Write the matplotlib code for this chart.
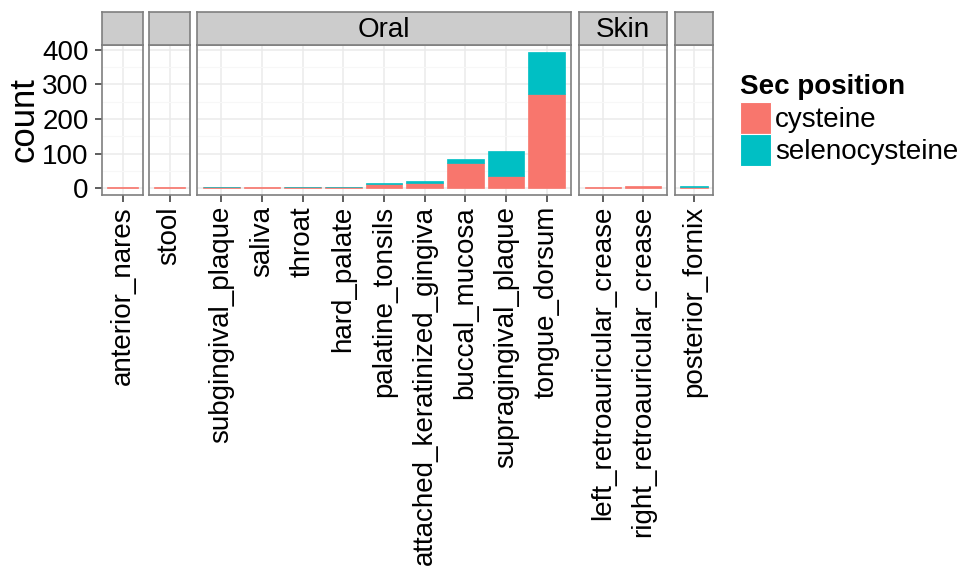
import matplotlib.pyplot as plt
from matplotlib.patches import Rectangle

plt.rcParams['font.family'] = ['Liberation Sans', 'DejaVu Sans']

# facets (strip label, sites in that facet)
facets = ['', '', 'Oral', 'Skin', '']
facet_sites = [
    ['anterior_nares'],
    ['stool'],
    ['subgingival_plaque', 'saliva', 'throat', 'hard_palate', 'palatine_tonsils',
     'attached_keratinized_gingiva', 'buccal_mucosa', 'supragingival_plaque', 'tongue_dorsum'],
    ['left_retroauricular_crease', 'right_retroauricular_crease'],
    ['posterior_fornix'],
]

# counts per site
cysteine = {
    'anterior_nares': 2, 'stool': 2,
    'subgingival_plaque': 2, 'saliva': 4, 'throat': 2, 'hard_palate': 2,
    'palatine_tonsils': 11, 'attached_keratinized_gingiva': 15, 'buccal_mucosa': 74,
    'supragingival_plaque': 34, 'tongue_dorsum': 273,
    'left_retroauricular_crease': 3, 'right_retroauricular_crease': 7,
    'posterior_fornix': 3,
}
selenocysteine = {
    'anterior_nares': 0, 'stool': 0,
    'subgingival_plaque': 2, 'saliva': 0, 'throat': 2, 'hard_palate': 2,
    'palatine_tonsils': 5, 'attached_keratinized_gingiva': 6, 'buccal_mucosa': 11,
    'supragingival_plaque': 74, 'tongue_dorsum': 121,
    'left_retroauricular_crease': 0, 'right_retroauricular_crease': 0,
    'posterior_fornix': 4,
}

col_cys = '#F8766D'
col_sec = '#00BFC4'

W, H = 965, 573
fig = plt.figure(figsize=(W / 100, H / 100), dpi=100)

# panel pixel extents (left, right)
panel_x = [(102, 143), (149, 190), (197, 571), (579, 667), (675, 713)]
panel_top, panel_bot = 45, 195
strip_top = 12

ymax = max(cysteine[s] + selenocysteine[s] for s in cysteine)
ylim = (-0.05 * ymax, ymax * 1.05)


def fx(px):
    return px / W


def fy(py):
    return 1 - py / H


for i, (label, sites) in enumerate(zip(facets, facet_sites)):
    x0, x1 = panel_x[i]
    ax = fig.add_axes([fx(x0), fy(panel_bot), fx(x1 - x0), (panel_bot - panel_top) / H])
    xs = list(range(len(sites)))
    c = [cysteine[s] for s in sites]
    se = [selenocysteine[s] for s in sites]
    ax.bar(xs, c, width=0.9, color=col_cys, edgecolor=col_cys, lw=0.5, zorder=3)
    sel = [v if v > 0 else float('nan') for v in se]
    ax.bar(xs, sel, bottom=c, width=0.9, color=col_sec, edgecolor=col_sec, lw=0.5, zorder=3)
    ax.set_xlim(-0.6, len(sites) - 0.4)
    ax.set_ylim(*ylim)
    ax.set_yticks([0, 100, 200, 300, 400])
    ax.set_yticks([50, 150, 250, 350], minor=True)
    ax.set_xticks(xs)
    ax.set_xticklabels(sites, rotation=90, fontsize=20)
    ax.grid(True, which='major', color='#ebebeb', lw=1.1, zorder=0)
    ax.grid(True, which='minor', axis='y', color='#f7f7f7', lw=0.8, zorder=0)
    ax.set_axisbelow(True)
    for sp in ax.spines.values():
        sp.set_color('#7f7f7f')
        sp.set_linewidth(1.2)
    ax.tick_params(axis='x', length=5, width=1.1, color='#333333', pad=3)
    ax.tick_params(axis='y', which='minor', length=0)
    if i == 0:
        ax.set_yticklabels(['0', '100', '200', '300', '400'], fontsize=20)
        ax.tick_params(axis='y', length=5, width=1.1, color='#333333', pad=4.5)
        ax.set_ylabel('count', fontsize=25, labelpad=1)
    else:
        ax.tick_params(axis='y', length=0, labelleft=False)

    # strip
    sax = fig.add_axes([fx(x0), fy(panel_top), fx(x1 - x0), (panel_top - strip_top) / H])
    sax.set_facecolor('#cccccc')
    sax.set_xticks([])
    sax.set_yticks([])
    for sp in sax.spines.values():
        sp.set_color('#7f7f7f')
        sp.set_linewidth(1.2)
    sax.text(0.5, 0.45, label, ha='center', va='center', fontsize=20, transform=sax.transAxes)

# legend
fig.text(fx(740), fy(87), 'Sec position', fontsize=20, fontweight='bold', va='center', ha='left')
for j, (name, col) in enumerate([('cysteine', col_cys), ('selenocysteine', col_sec)]):
    ytop = 102 + j * 32
    fig.patches.append(Rectangle((fx(740), fy(ytop + 32)), fx(31), 32 / H, facecolor=col,
                                 edgecolor='white', lw=0.8, transform=fig.transFigure, figure=fig))
    fig.text(fx(775), fy(ytop + 18), name, fontsize=20, va='center', ha='left')

fig.savefig('out.png', dpi=100)
